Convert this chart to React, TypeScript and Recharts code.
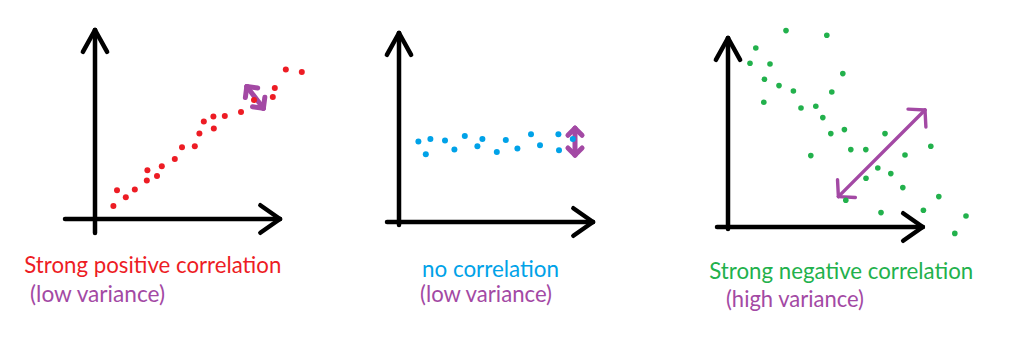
import React from "react";
import { ScatterChart, Scatter, XAxis, YAxis, ReferenceLine } from "recharts";

// ---- data (units: one axis unit per panel grid step) ----
const posX = [0.92, 1.1, 1.54, 1.99, 2.59, 2.62, 3.1, 3.34, 3.99, 4.35, 4.99, 5.22, 5.44, 5.92, 5.94, 6.49, 7.3, 7.95, 8.89, 8.99, 9.54, 10.34];
const posY = [0.65, 1.44, 1.09, 1.47, 1.92, 2.44, 2.15, 2.64, 3.0, 3.59, 3.64, 4.27, 4.87, 5.12, 4.52, 5.15, 5.35, 5.95, 6.1, 6.55, 7.47, 7.35];

const flatX = [0.97, 1.34, 1.57, 2.3, 2.77, 3.29, 3.92, 4.17, 4.89, 5.34, 5.92, 6.6, 7.05, 7.97, 8.0, 8.69];
const flatY = [4.02, 3.39, 4.15, 4.07, 3.62, 4.3, 3.79, 4.15, 3.5, 4.1, 3.67, 4.39, 3.84, 4.39, 3.59, 4.15];

const negX = [2.9, 4.94, 1.39, 1.1, 2.1, 1.82, 2.55, 5.74, 3.27, 5.19, 1.79, 3.65, 4.39, 4.74, 5.14, 5.82, 7.85, 6.14, 6.89, 10.14, 4.14, 8.85, 7.49, 8.14, 6.9, 8.74, 5.89, 10.54, 7.65, 9.77, 11.9, 11.34];
const negY = [9.82, 9.59, 8.95, 8.19, 8.15, 7.39, 7.07, 7.67, 6.8, 6.75, 6.24, 5.95, 6.04, 5.47, 4.67, 4.87, 4.67, 3.87, 3.87, 4.04, 3.57, 3.6, 2.95, 2.67, 2.44, 1.97, 1.34, 1.52, 0.72, 0.84, 0.55, -0.32];

const titles = ["Strong positive correlation", "no correlation", "Strong negative correlation"];
const subtitles = ["(low variance)", "(low variance)", "(high variance)"];

const toPoints = (xs: number[], ys: number[]) => xs.map((x, i) => ({ x, y: ys[i] }));

const UNIT = 20;
const BLACK = "#000000";
const PURPLE = "#A349A4";

type Pt = { x: number; y: number };
type Seg = [Pt, Pt];

function arrowHead(from: Pt, to: Pt, len: number, angDeg: number): Seg[] {
  const dx = from.x - to.x;
  const dy = from.y - to.y;
  const d = Math.hypot(dx, dy);
  const ux = dx / d;
  const uy = dy / d;
  const a = (angDeg * Math.PI) / 180;
  const out: Seg[] = [];
  for (const s of [1, -1]) {
    const c = Math.cos(a);
    const sn = Math.sin(a * s);
    const rx = ux * c - uy * sn;
    const ry = ux * sn + uy * c;
    out.push([to, { x: to.x + rx * len, y: to.y + ry * len }]);
  }
  return out;
}

type Arrow = { from: Pt; to: Pt; len: number; ang: number; color: string; width: number; both?: boolean };

function arrowSegs(ar: Arrow): { seg: Seg; color: string; width: number }[] {
  const segs: Seg[] = [[ar.from, ar.to], ...arrowHead(ar.from, ar.to, ar.len, ar.ang)];
  if (ar.both) segs.push(...arrowHead(ar.to, ar.from, ar.len, ar.ang));
  return segs.map((seg) => ({ seg, color: ar.color, width: ar.width }));
}

type PanelProps = {
  data: Pt[];
  color: string;
  r: number;
  x0: number;
  y0: number;
  xd: [number, number];
  yd: [number, number];
  axes: Arrow[];
  marks: Arrow[];
};

function Panel({ data, color, r, x0, y0, xd, yd, axes, marks }: PanelProps) {
  const left = x0 + xd[0] * UNIT;
  const width = (xd[1] - xd[0]) * UNIT;
  const top = y0 - yd[1] * UNIT;
  const height = (yd[1] - yd[0]) * UNIT;
  const axisSegs = axes.flatMap(arrowSegs);
  const markSegs = marks.flatMap(arrowSegs);
  return (
    <div style={{ position: "absolute", left, top, width, height }}>
      <ScatterChart width={width} height={height} margin={{ top: 0, right: 0, bottom: 0, left: 0 }}>
        <XAxis type="number" dataKey="x" domain={xd} hide allowDataOverflow />
        <YAxis type="number" dataKey="y" domain={yd} hide allowDataOverflow />
        {axisSegs.map((s, i) => (
          <ReferenceLine
            key={"a" + i}
            segment={s.seg}
            stroke={s.color}
            strokeWidth={s.width}
            strokeLinecap="round"
            ifOverflow="visible"
          />
        ))}
        <Scatter
          data={data}
          isAnimationActive={false}
          shape={(p: any) => <circle cx={p.cx} cy={p.cy} r={r} fill={color} />}
        />
        {markSegs.map((s, i) => (
          <ReferenceLine
            key={"m" + i}
            segment={s.seg}
            stroke={s.color}
            strokeWidth={s.width}
            strokeLinecap="round"
            ifOverflow="visible"
          />
        ))}
      </ScatterChart>
    </div>
  );
}

const axisPair = (xMin: number, xTip: number, yMin: number, yTip: number): Arrow[] => [
  { from: { x: 0, y: yMin }, to: { x: 0, y: yTip }, len: 1.25, ang: 29, color: BLACK, width: 4.5 },
  { from: { x: xMin, y: 0 }, to: { x: xTip, y: 0 }, len: 1.2, ang: 35, color: BLACK, width: 4.5 },
];

const labelFont = "Lato, 'Open Sans', sans-serif";

export default function App() {
  return (
    <div
      style={{
        position: "absolute",
        left: 0,
        top: 0,
        width: 1024,
        height: 353,
        background: "#ffffff",
        overflow: "hidden",
      }}
    >
      <Panel
        data={toPoints(posX, posY)}
        color="#ED1C24"
        r={3}
        x0={95}
        y0={219}
        xd={[-2, 12]}
        yd={[-1, 10.5]}
        axes={axisPair(-1.5, 9.25, -0.7, 9.45)}
        marks={[
          { from: { x: 7.59, y: 6.62 }, to: { x: 8.42, y: 5.54 }, len: 0.55, ang: 45, color: PURPLE, width: 5, both: true },
        ]}
      />
      <Panel
        data={toPoints(flatX, flatY)}
        color="#00A2E8"
        r={3}
        x0={399}
        y0={222}
        xd={[-1, 11]}
        yd={[-1, 10]}
        axes={axisPair(-0.6, 9.7, -0.15, 9.45)}
        marks={[
          { from: { x: 8.8, y: 4.69 }, to: { x: 8.8, y: 3.35 }, len: 0.5, ang: 45, color: PURPLE, width: 5, both: true },
        ]}
      />
      <Panel
        data={toPoints(negX, negY)}
        color="#22B14C"
        r={2.8}
        x0={728}
        y0={227}
        xd={[-1, 12.5]}
        yd={[-1, 10.5]}
        axes={axisPair(-0.55, 9.74, -0.1, 9.45)}
        marks={[
          { from: { x: 5.52, y: 1.52 }, to: { x: 9.85, y: 5.85 }, len: 0.85, ang: 48, color: PURPLE, width: 3.4, both: true },
        ]}
      />
      <svg width={1024} height={353} style={{ position: "absolute", left: 0, top: 0, pointerEvents: "none" }}>
        <g fontFamily={labelFont} fontSize={22.5}>
          <text x={24.3} y={273} fill="#ED1C24" textLength={257} lengthAdjust="spacingAndGlyphs">{titles[0]}</text>
          <text x={30} y={302} fill={PURPLE} textLength={135} lengthAdjust="spacingAndGlyphs">{subtitles[0]}</text>
          <text x={422} y={276.5} fill="#00A2E8" textLength={137} lengthAdjust="spacingAndGlyphs">{titles[1]}</text>
          <text x={420} y={301.5} fill={PURPLE} textLength={132} lengthAdjust="spacingAndGlyphs">{subtitles[1]}</text>
          <text x={709.3} y={279.3} fill="#22B14C" textLength={264} lengthAdjust="spacingAndGlyphs">{titles[2]}</text>
          <text x={726} y={306.5} fill={PURPLE} textLength={138} lengthAdjust="spacingAndGlyphs">{subtitles[2]}</text>
        </g>
      </svg>
    </div>
  );
}
